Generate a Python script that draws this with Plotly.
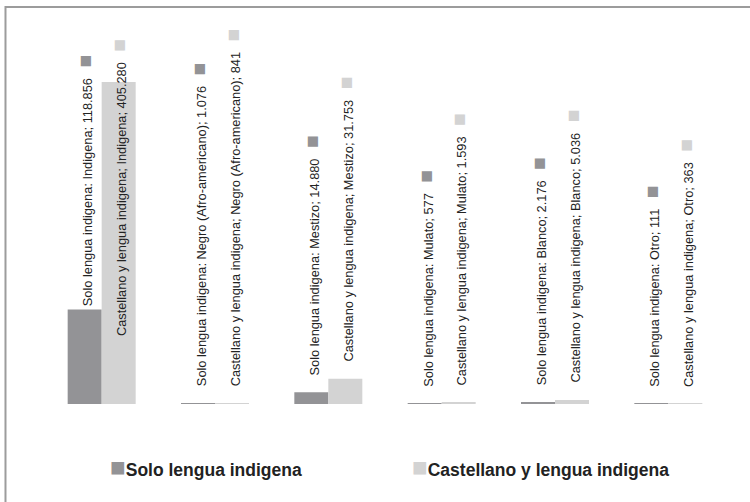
import plotly.graph_objects as go

# data
CATEGORIES = ["Indigena", "Negro (Afro-americano)", "Mestizo", "Mulato", "Blanco", "Otro"]
SERIES = ["Solo lengua indigena", "Castellano y lengua indigena"]
SOLO = [118856, 1076, 14880, 577, 2176, 111]
CASTELLANO = [405280, 841, 31753, 1593, 5036, 363]
SEPARATORS = [":", ";"]  # label separator used after the series name

COLORS = ["#939396", "#d3d3d3"]
TEXT = "#222222"
FONT = "Liberation Sans, Arial, sans-serif"

# special nudges for labels that would run off the top (category 0)
LABEL_NUDGE = {
    (0, 0): dict(yshift=1),
    (0, 1): dict(yanchor="top", yshift=45),
}


def fmt(v):
    return f"{v:,}".replace(",", ".")


fig = go.Figure()
x = list(range(len(CATEGORIES)))
for name, vals, color in zip(SERIES, [SOLO, CASTELLANO], COLORS):
    fig.add_trace(go.Bar(x=x, y=vals, name=name, marker_color=color,
                         marker_line_width=0, showlegend=False))

# rotated data labels with a legend key square at the end
annotations = []
for s, (name, vals, color) in enumerate(zip(SERIES, [SOLO, CASTELLANO], COLORS)):
    offset = -0.15 if s == 0 else 0.15
    for i, (cat, v) in enumerate(zip(CATEGORIES, vals)):
        txt = (f"{name}{SEPARATORS[s]} {cat}; {fmt(v)}" + "\u00a0" * 3
               + f"<span style='color:{color};font-size:21px'>■</span>")
        ann = dict(x=i + offset, y=v, xref="x", yref="y", text=txt,
                   textangle=-90, showarrow=False, xanchor="center",
                   yanchor="bottom", yshift=15,
                   font=dict(family=FONT, size=12.8, color=TEXT))
        ann.update(LABEL_NUDGE.get((i, s), {}))
        annotations.append(ann)

# legend drawn as text
for name, color, lx in zip(SERIES, COLORS, [0.092, 0.537]):
    annotations.append(dict(
        x=lx, y=-0.172, xref="paper", yref="paper", xanchor="left", yanchor="middle",
        showarrow=False,
        text=f"<span style='color:{color};font-size:26px'>■</span><b>{name}</b>",
        font=dict(family=FONT, size=17.5, color=TEXT)))

fig.update_layout(
    width=750, height=502,
    margin=dict(l=45, r=25, t=40, b=98),
    barmode="group", bargap=0.4, bargroupgap=0,
    plot_bgcolor="white", paper_bgcolor="white",
    annotations=annotations,
    shapes=[dict(type="rect", xref="paper", yref="paper",
                 x0=-0.0581, x1=1.1, y0=-0.35, y1=1.0907,
                 line=dict(color="#9c9c9c", width=2))],
)
fig.update_xaxes(visible=False, range=[-0.5, 5.5])
fig.update_yaxes(visible=False, range=[0, 458000])

# drop the default page margin so the figure sits at the window origin
fig.write_html("out.html", config={"displayModeBar": False},
               post_script="document.body.style.margin='0';")
